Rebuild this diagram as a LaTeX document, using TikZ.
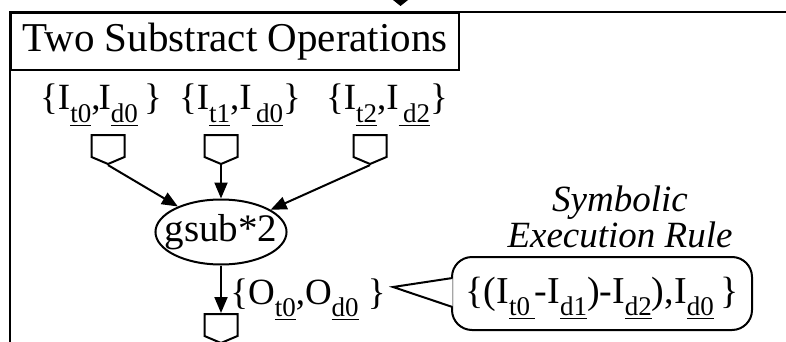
\documentclass[tikz,border=0pt]{standalone}
\usepackage{fontspec}
\setmainfont{Liberation Serif}
\usetikzlibrary{arrows.meta,positioning,calc,shapes.geometric,shapes.symbols}

\newcommand{\us}[1]{\raisebox{-6pt}{\fontsize{13.5}{13.5}\selectfont\underline{#1}}}

\begin{document}
\begin{tikzpicture}[x=0.5pt, y=-0.5pt, line width=1pt,
  port/.style={draw, shape=signal, signal to=south, signal pointer angle=134, inner sep=0pt, minimum width=16.5pt, minimum height=11pt},
  op/.style={draw, ellipse, inner xsep=-5pt, inner ysep=0pt, minimum width=65pt, minimum height=32.5pt, font=\fontsize{19.5}{20}\selectfont},
  lbl/.style={inner sep=0pt, anchor=base, font=\fontsize{18.5}{20}\selectfont},
  line/.style={-{Triangle[length=8pt,width=6.5pt]}}
]
\useasboundingbox (0,0) rectangle (786,342);
\draw (10,342) -- (10,12) -- (786,12);
\fill (393,0) -- (408,0) -- (400.5,6) -- cycle;
\node[draw, anchor=north west, inner sep=0pt, minimum width=224pt, minimum height=28.5pt, font=\fontsize{20.5}{24}\selectfont] (title) at (10,12) {Two Substract Operations};
\node[lbl] (l1) at (101,110) {\{I\us{t0},\kern-1pt I\us{d0}\,\}};
\node[lbl] (l2) at (240,110) {\{I\us{t1},I\us{\,d0}\}};
\node[lbl] (l3) at (387,110) {\{I\us{t2},I\us{\,d2}\}};
\node[port] (p1) at (108,146) {};
\node[port] (p2) at (221,146) {};
\node[port] (p3) at (370,146) {};
\node[op] (gsub) at (221,232) {gsub*2};
\node[port] (pout) at (221,325) {};
\node[lbl] (lout) at (308,304) {\{O\us{t0},O\us{d0}\ \}};
\node[draw, rounded corners=10pt, inner sep=0pt, minimum width=150pt, minimum height=36.5pt, text height=14pt, text depth=4.5pt, font=\fontsize{19}{20}\selectfont] (rule) at (602,293.5) {\{(I\us{t0\,}-I\us{d1})-I\us{d2}),I\us{d0}\,\}};
\node[above=3.5pt of rule, xshift=9pt, inner sep=0pt, align=center, font=\itshape\fontsize{18.5}{14}\selectfont] (caption) {Symbolic\\Execution Rule};
\coordinate (tip) at (393,287);
\draw[fill=white] ($(rule.west)+(1.5,-15.5)$) -- (tip) -- ($(rule.west)+(1.5,13.5)$);
\draw[line] (p1.south) -- (gsub);
\draw[line] (p2.south) -- (gsub);
\draw[line] (p3.south) -- (gsub);
\draw[line] (gsub) -- (pout);
\end{tikzpicture}
\end{document}
